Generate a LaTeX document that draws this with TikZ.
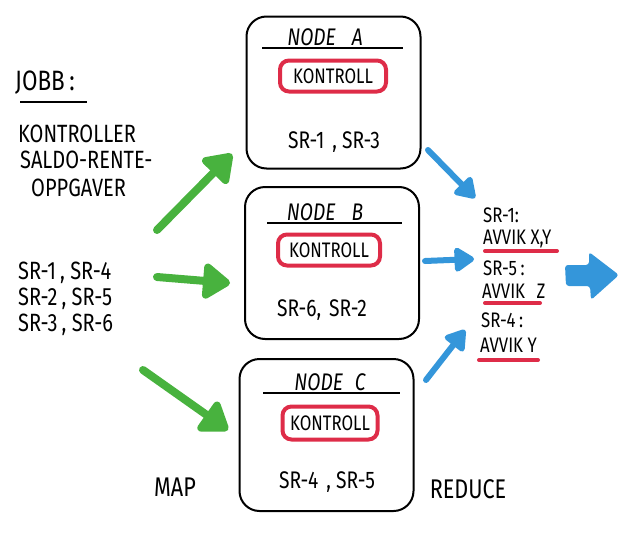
\documentclass[tikz,border=0pt]{standalone}
\usepackage{fontspec}
\setmainfont[FakeStretch=0.8]{Fira Sans}
\usetikzlibrary{arrows.meta}
\definecolor{grn}{RGB}{72,178,62}
\definecolor{blu}{RGB}{52,150,218}
\definecolor{rd}{RGB}{222,44,72}
\begin{document}
\begin{tikzpicture}[x=1pt,y=-1pt,
  box/.style={draw, line width=2pt, rounded corners=20pt, minimum width=174pt, minimum height=152pt, inner sep=0pt},
  kbox/.style={draw=rd, line width=4pt, rounded corners=9pt, minimum width=100pt, minimum height=31pt, inner sep=0pt, font=\fontsize{21}{24}\selectfont},
  ttl/.style={font=\fontsize{24}{27}\selectfont\itshape, inner sep=0pt},
  txt/.style={font=\fontsize{25}{28}\selectfont, inner sep=0pt, anchor=west},
  rtxt/.style={font=\fontsize{21}{24}\selectfont, inner sep=0pt, anchor=west},
  garrow/.style={draw=grn, line width=8pt, line cap=round, -{Triangle[length=30pt,width=40pt,round]}},
  barrow/.style={draw=blu, line width=6pt, line cap=round, -{Triangle[length=22pt,width=27pt,round]}},
  uline/.style={draw=rd, line width=4pt, line cap=round}
]
\useasboundingbox (0,0) rectangle (640,549);

% boxes
\node[box] (A) at (333.5,92.5) {};
\node[box] (B) at (332,263) {};
\node[box] (C) at (326.5,435) {};

% titles
\node[ttl] (tA) at (325,37) {NODE\hspace{16pt}A};
\node[ttl] (tB) at (325,212) {NODE\hspace{16pt}B};
\node[ttl] (tC) at (330,382) {NODE\hspace{12pt}C};
\draw[line width=1.6pt] (262,48) -- (403,48);
\draw[line width=1.6pt] (267,223) -- (402,223);
\draw[line width=1.6pt] (263,393) -- (400,393);

% kontroll
\node[kbox, minimum width=106pt] (kA) at (333,76) {KONTROLL};
\node[kbox, minimum width=102pt] (kB) at (329,250) {KONTROLL};
\node[kbox, minimum width=95pt, minimum height=33pt] (kC) at (330,423) {KONTROLL};

% box contents
\node[font=\fontsize{24}{27}\selectfont, inner sep=0pt] (sA) at (334,142) {SR-1\,\,, SR-3};
\node[font=\fontsize{24}{27}\selectfont, inner sep=0pt] (sB) at (322,310) {SR-6,\,\,SR-2};
\node[font=\fontsize{24}{27}\selectfont, inner sep=0pt] (sC) at (327,482) {SR-4\,\,, SR-5};

% left texts
\node[txt, font=\fontsize{28}{30}\selectfont] (jobb) at (15,83) {JOBB\,:};
\draw[line width=1.8pt] (20,102) -- (87,102);
\node[txt] (k1) at (18,134) {KONTROLLER};
\node[txt] (k2) at (20,160) {SALDO-RENTE-};
\node[txt] (k3) at (31,188) {OPPGAVER};
\node[txt] (l1) at (18,273) {SR-1\,, SR-4};
\node[txt] (l2) at (18,299) {SR-2\,, SR-5};
\node[txt] (l3) at (18,325) {SR-3\,, SR-6};

% right texts
\node[rtxt] (r1) at (483,215) {SR-1:};
\node[rtxt] (r2) at (483,239) {AVVIK X,Y};
\draw[uline] (485,251) -- (557,251);
\node[rtxt] (r3) at (483,268) {SR-5\,:};
\node[rtxt] (r4) at (482,291) {AVVIK\,\, Z};
\draw[uline] (485,303) -- (540,303);
\node[rtxt] (r5) at (481,320) {SR-4\,:};
\node[rtxt] (r6) at (480,345) {AVVIK Y};
\draw[uline] (479,360) -- (538,360);

% map / reduce
\node[font=\fontsize{27}{30}\selectfont, inner sep=0pt] (map) at (175,487) {MAP};
\node[font=\fontsize{27}{30}\selectfont, inner sep=0pt] (red) at (468,489) {REDUCE};

% green arrows
\coordinate (g1s) at (157,230);
\coordinate (g2s) at (157,277);
\coordinate (g3s) at (143,370);
\coordinate (g1e) at (232,154);
\coordinate (g2e) at (230,283);
\coordinate (g3e) at (228,430);
\draw[garrow] (g1s) -- (g1e);
\draw[garrow] (g2s) -- (g2e);
\draw[garrow] (g3s) -- (g3e);

% blue arrows
\coordinate (b1s) at (428,150);
\coordinate (b1e) at (475,198);
\coordinate (b2s) at (425,261);
\coordinate (b2e) at (474,259);
\coordinate (b3s) at (426,380);
\coordinate (b3e) at (465,330);
\draw[barrow] (b1s) -- (b1e);
\draw[barrow] (b2s) -- (b2e);
\draw[barrow] (b3s) -- (b3e);

% big blue arrow
\fill[blu, rounded corners=3pt] (565,265) -- (589,265) -- (589,252) -- (619,275) -- (591,300) -- (590,286) -- (566,286) -- cycle;
\end{tikzpicture}
\end{document}
